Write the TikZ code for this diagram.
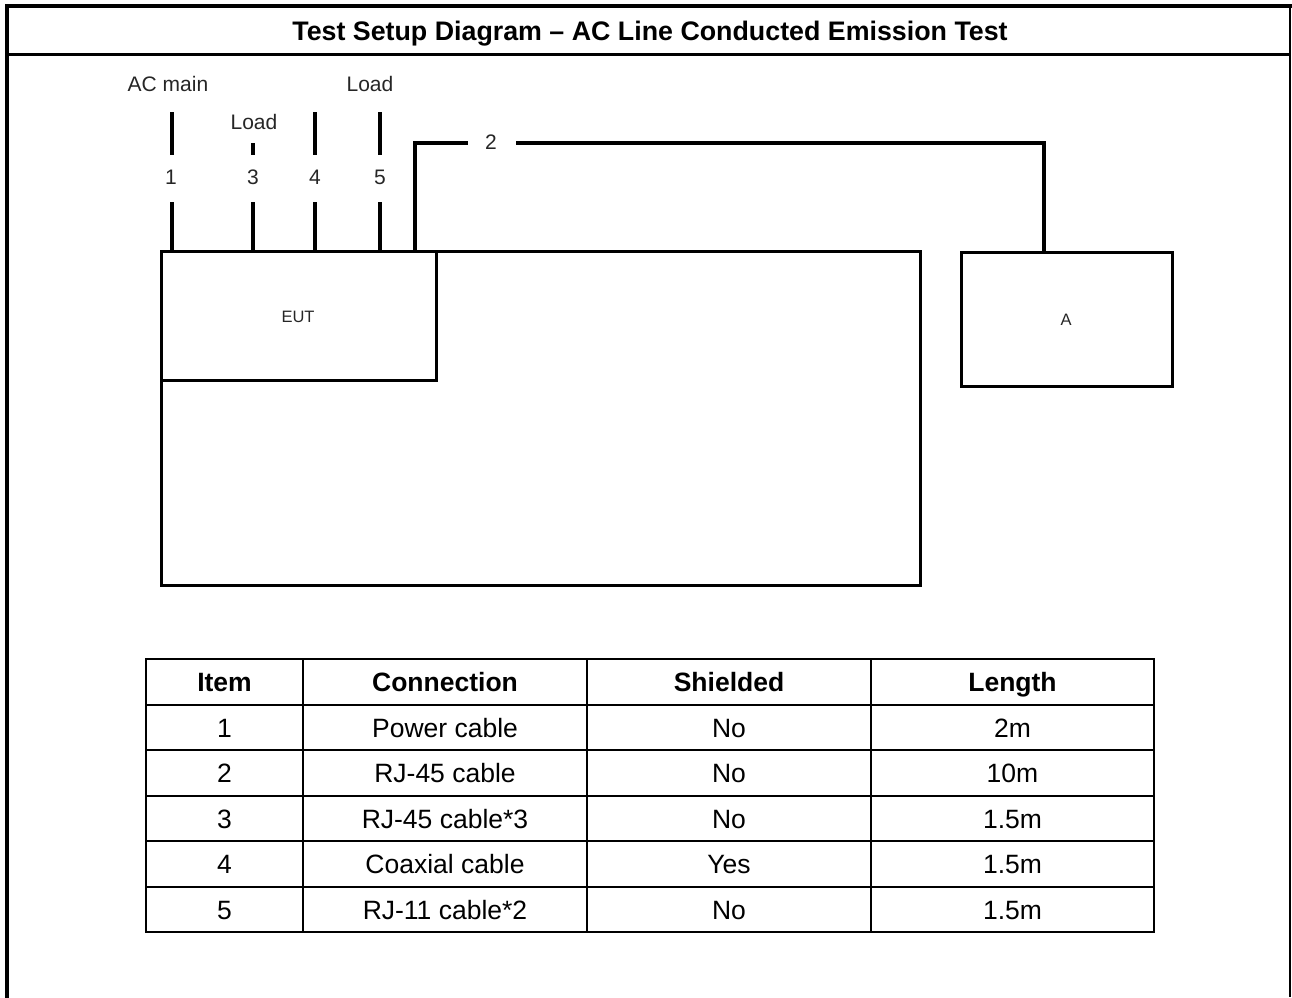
\documentclass[tikz,border=0pt]{standalone}
\usepackage{fontspec}
\setmainfont{Liberation Sans}
\begin{document}
\begin{tikzpicture}[x=1pt,y=-1pt,
  frame/.style={line width=3.5pt, line cap=rect},
  boxline/.style={draw, line width=3pt, inner sep=0pt, outer sep=0pt},
  cable/.style={line width=4pt},
  lbl/.style={font=\fontsize{21}{23}\selectfont, text=black!85, inner sep=0pt},
  boxlbl/.style={font=\fontsize{16.5}{18}\selectfont, text=black!85, inner sep=0pt},
  cell/.style={font=\fontsize{26.5}{30}\selectfont, anchor=base, inner sep=0pt},
  hcell/.style={font=\bfseries\fontsize{26.5}{30}\selectfont, anchor=base, inner sep=0pt},
  thinrule/.style={line width=1.5pt},
  thickrule/.style={line width=2.5pt}]
\useasboundingbox (0,0) rectangle (1292,997);

% outer frame
\draw[frame] (7,997) -- (7,6) -- (1290,6);
\draw[line width=1.8pt] (1290,6) -- (1290,997);
\draw[line width=3pt] (7,54) -- (1290,54);
\node[font=\bfseries\fontsize{26.8}{30}\selectfont, anchor=base, inner sep=0pt] (title) at (650,40.5) {Test Setup Diagram – AC Line Conducted Emission Test};

% boxes
\node[boxline, minimum width=759pt, minimum height=334pt, anchor=north west] (table) at (161,251) {};
\node[boxline, minimum width=275pt, minimum height=129pt, anchor=north west] (eut) at (161,251) {};
\node[boxlbl] (eutl) at (298,317) {EUT};
\node[boxline, minimum width=211pt, minimum height=134pt, anchor=north west] (a) at (961,252) {};
\node[boxlbl] (al) at (1066,320) {A};

% labels
\node[lbl] (acmain) at (168,84) {AC main};
\node[lbl] (load3) at (254,122) {Load};
\node[lbl] (load5) at (370,84) {Load};

% cable numbers
\node[lbl] (n1) at (171,177) {1};
\node[lbl] (n3) at (253,177) {3};
\node[lbl] (n4) at (315,177) {4};
\node[lbl] (n5) at (380,177) {5};
\node[lbl] (n2) at (491,142) {2};

\coordinate (t1) at (172,112);
\coordinate (t3) at (253,143);
\coordinate (t4) at (315,112);
\coordinate (t5) at (380,112);

\draw[cable] (t1) -- (172,155);
\draw[cable] (172,202) -- (172,251);
\draw[cable] (t3) -- (253,155);
\draw[cable] (253,202) -- (253,251);
\draw[cable] (t4) -- (315,155);
\draw[cable] (315,202) -- (315,251);
\draw[cable] (t5) -- (380,155);
\draw[cable] (380,202) -- (380,251);

% cable 2
\coordinate (c2a) at (415,251);
\coordinate (c2b) at (415,143);
\coordinate (c2c) at (1044,143);
\draw[cable] (c2a) -- (c2b) -- (468,143);
\draw[cable] (516,143) -- (c2c) -- (a.north -| c2c);

% table
\draw[thickrule] (146,659) rectangle (1154,932);
\foreach \yy in {705,750,796,841,887} \draw[thinrule] (146,\yy) -- (1154,\yy);
\draw[line width=2pt] (146,705) -- (1154,705);
\foreach \xx in {303,587,871} \draw[thinrule] (\xx,659) -- (\xx,932);

\node[hcell] (h1) at (224.5,691.5) {Item};
\node[hcell] (h2) at (445,691.5) {Connection};
\node[hcell] (h3) at (729,691.5) {Shielded};
\node[hcell] (h4) at (1012.5,691.5) {Length};

\node[cell] (r1a) at (224.5,737) {1};
\node[cell] (r1b) at (445,737) {Power cable};
\node[cell] (r1c) at (729,737) {No};
\node[cell] (r1d) at (1012.5,737) {2m};

\node[cell] (r2a) at (224.5,782.5) {2};
\node[cell] (r2b) at (445,782.5) {RJ-45 cable};
\node[cell] (r2c) at (729,782.5) {No};
\node[cell] (r2d) at (1012.5,782.5) {10m};

\node[cell] (r3a) at (224.5,828) {3};
\node[cell] (r3b) at (445,828) {RJ-45 cable*3};
\node[cell] (r3c) at (729,828) {No};
\node[cell] (r3d) at (1012.5,828) {1.5m};

\node[cell] (r4a) at (224.5,873.5) {4};
\node[cell] (r4b) at (445,873.5) {Coaxial cable};
\node[cell] (r4c) at (729,873.5) {Yes};
\node[cell] (r4d) at (1012.5,873.5) {1.5m};

\node[cell] (r5a) at (224.5,919) {5};
\node[cell] (r5b) at (445,919) {RJ-11 cable*2};
\node[cell] (r5c) at (729,919) {No};
\node[cell] (r5d) at (1012.5,919) {1.5m};
\end{tikzpicture}
\end{document}
